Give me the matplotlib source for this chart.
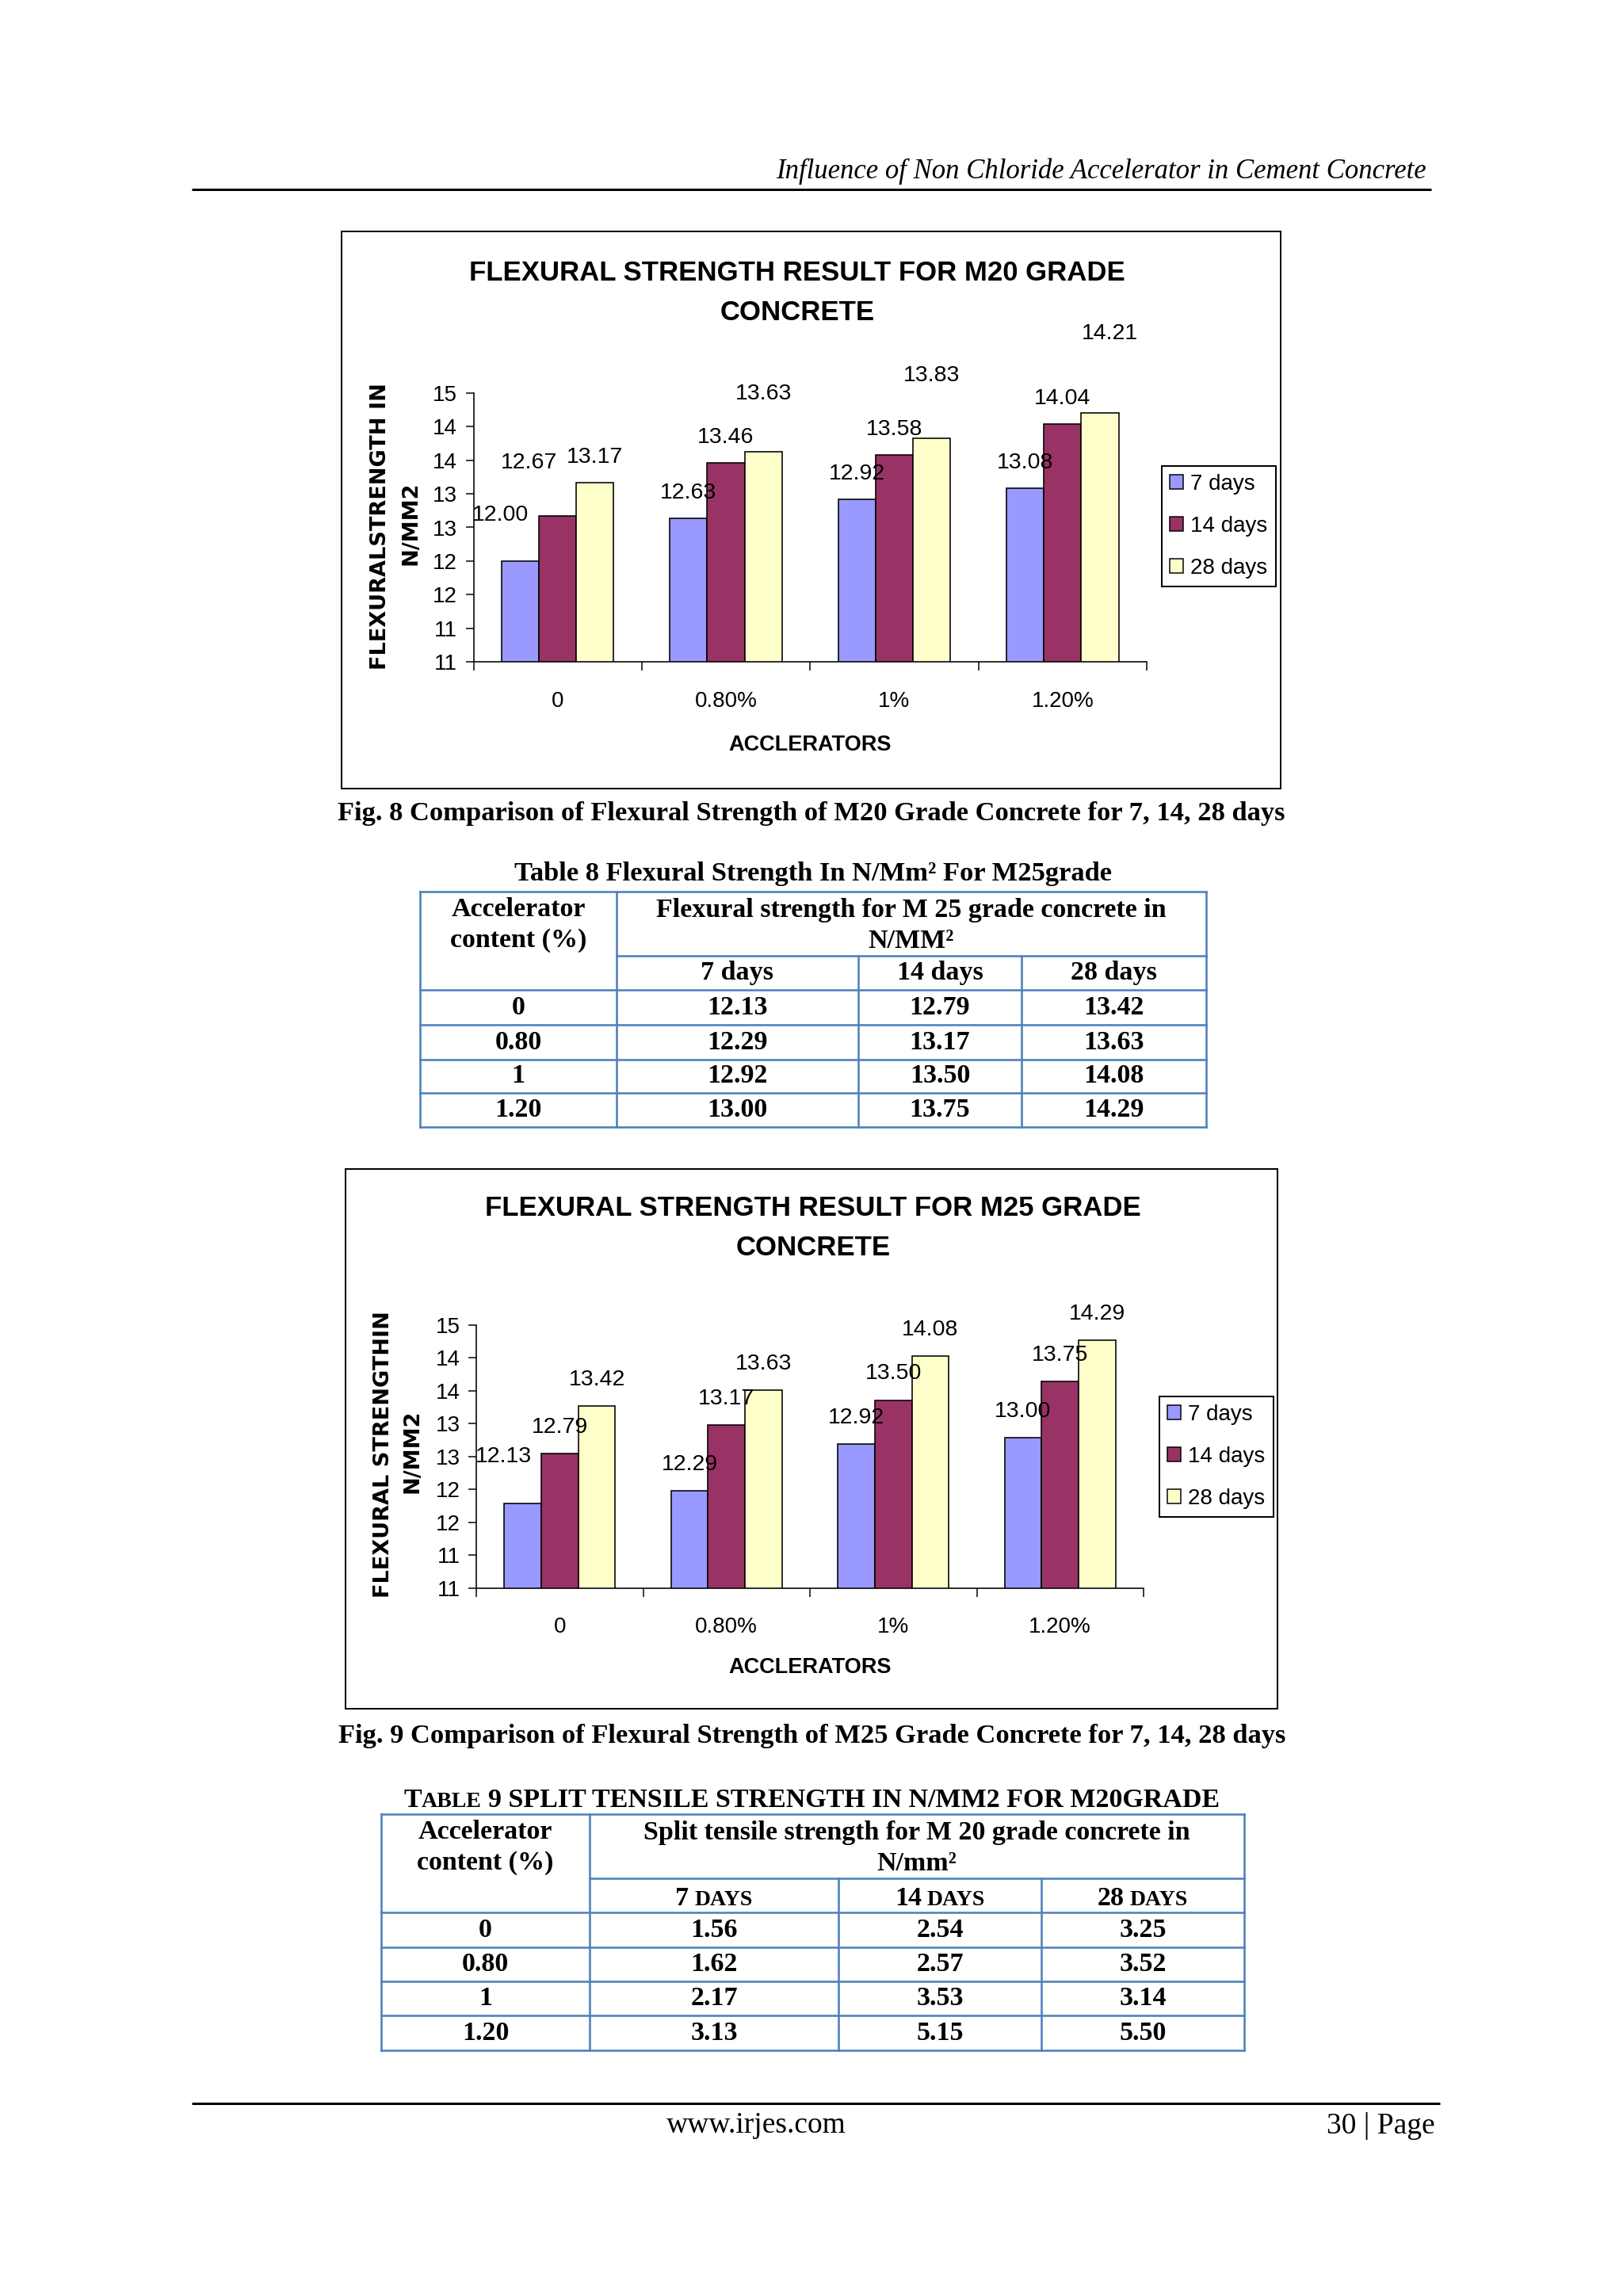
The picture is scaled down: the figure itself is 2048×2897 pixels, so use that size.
import math
import matplotlib
matplotlib.use("Agg")
import matplotlib.pyplot as plt
from matplotlib.patches import Rectangle, Patch
from matplotlib.ticker import FixedLocator, FuncFormatter

# ---------------- data ----------------
categories = ["0", "0.80%", "1%", "1.20%"]
series_names = ["7 days", "14 days", "28 days"]
m20_7 = [12.00, 12.63, 12.92, 13.08]
m20_14 = [12.67, 13.46, 13.58, 14.04]
m20_28 = [13.17, 13.63, 13.83, 14.21]
m25_7 = [12.13, 12.29, 12.92, 13.00]
m25_14 = [12.79, 13.17, 13.50, 13.75]
m25_28 = [13.42, 13.63, 14.08, 14.29]
table_content = ["0", "0.80", "1", "1.20"]
split_7 = [1.56, 1.62, 2.17, 3.13]
split_14 = [2.54, 2.57, 3.53, 5.15]
split_28 = [3.25, 3.52, 3.14, 5.50]

# ---------------- styling ----------------
W, H, DPI = 2048, 2897, 100
SANS, SERIF = "Liberation Sans", "Liberation Serif"
COLORS = ["#9999FF", "#993366", "#FFFFCC"]
TBL_BLUE = "#4F81BD"


def pt(px):
    return px * 72.0 / DPI


fig = plt.figure(figsize=(W / DPI, H / DPI), dpi=DPI, facecolor="white")
pg = fig.add_axes([0, 0, 1, 1], zorder=0)
pg.set_xlim(0, W)
pg.set_ylim(H, 0)
pg.axis("off")
renderer = fig.canvas.get_renderer()

# ---------------- page header / footer ----------------
pg.text(1800, 216, "Influence of Non Chloride Accelerator in Cement Concrete",
        ha="right", va="center", family=SERIF, style="italic", fontsize=25)
pg.plot([242, 1806], [239, 239], color="black", lw=pt(3), solid_capstyle="butt")
pg.plot([242, 1817], [2654, 2654], color="black", lw=pt(3), solid_capstyle="butt")
pg.text(954, 2682, "www.irjes.com", ha="center", va="center", family=SERIF, fontsize=27)
pg.text(1811, 2682, "30 | Page", ha="right", va="center", family=SERIF, fontsize=27)


# ---------------- charts ----------------
def excel_round(v, _pos=None):
    return str(int(math.floor(v + 0.5 + 1e-9)))


def draw_chart(box, axrect, series, ylo, yhi, step, offsets, title, title_xy,
               ylab, ylab_x, ylab_y, xlab_xy, leg_xy, xpad):
    bx0, by0, bx1, by1 = box
    pg.add_patch(Rectangle((bx0, by0), bx1 - bx0, by1 - by0, fill=False,
                           ec="black", lw=pt(2)))
    x0, y0, x1, y1 = axrect
    ax = fig.add_axes([x0 / W, 1 - y1 / H, (x1 - x0) / W, (y1 - y0) / H], zorder=2)
    ax.set_facecolor("none")
    n = len(categories)
    w = 1 / 4.5
    for j, vals in enumerate(series):
        xs = [i + (j - 1) * w for i in range(n)]
        ax.bar(xs, vals, width=w, color=COLORS[j], edgecolor="black",
               linewidth=pt(1.6), zorder=2)
        for i, v in enumerate(vals):
            dx, dy = offsets[j][i]
            ax.annotate(f"{v:.2f}", xy=(xs[i], v), xytext=(pt(dx), pt(dy)),
                        textcoords="offset points", ha="center", va="center",
                        family=SANS, fontsize=20.5, zorder=10,
                        annotation_clip=False)
    ax.set_xlim(-0.5, n - 0.5)
    ax.set_ylim(ylo, yhi)
    nt = int(round((yhi - ylo) / step))
    ax.yaxis.set_major_locator(FixedLocator([ylo + k * step for k in range(nt + 1)]))
    ax.yaxis.set_major_formatter(FuncFormatter(excel_round))
    ax.set_xticks([k - 0.5 for k in range(n + 1)])
    ax.set_xticks(range(n), minor=True)
    ax.set_xticklabels(categories, minor=True)
    ax.tick_params(axis="x", which="major", length=8, width=pt(1.5), labelbottom=False,
                   direction="out")
    ax.tick_params(axis="x", which="minor", length=0, pad=xpad, labelsize=20)
    ax.tick_params(axis="y", length=7.3, width=pt(1.5), pad=7.5, labelsize=20,
                   direction="out")
    for lab in ax.get_xticklabels(minor=True) + ax.get_yticklabels():
        lab.set_family(SANS)
    for s in ("top", "right"):
        ax.spines[s].set_visible(False)
    for s in ("left", "bottom"):
        ax.spines[s].set_linewidth(pt(1.6))
    # title
    for k, line in enumerate(title):
        pg.text(title_xy[0], title_xy[1][k], line, ha="center", va="center",
                family=SANS, weight="bold", fontsize=25)
    # y label (two lines)
    for k, line in enumerate(ylab):
        pg.text(ylab_x[k], ylab_y[k], line, ha="center", va="center", rotation=90,
                family="DejaVu Sans", weight="bold", fontsize=19.5)
    pg.text(xlab_xy[0], xlab_xy[1], "ACCLERATORS", ha="center", va="center",
            family=SANS, weight="bold", fontsize=19.5)
    handles = [Patch(facecolor=c, edgecolor="black", lw=pt(1.5)) for c in COLORS]
    leg = ax.legend(handles, series_names, loc="upper left",
                    bbox_to_anchor=(leg_xy[0] / W, 1 - leg_xy[1] / H),
                    bbox_transform=fig.transFigure, frameon=True, fancybox=False,
                    edgecolor="black", framealpha=1, prop={"family": SANS, "size": 20},
                    handlelength=0.6, handleheight=0.6, handletextpad=0.35,
                    labelspacing=0.97, borderpad=0.36, borderaxespad=0)
    leg.get_frame().set_linewidth(pt(2))
    return ax


off_m20 = [[(-25, 58), (0, 32), (0, 32), (0, 32)],
           [(-36, 67), (0, 32), (0, 32), (0, 32)],
           [(0, 32), (0, 73), (0, 79), (12, 100)]]
off_m25 = [[(-24, 59), (0, 33), (0, 33), (0, 33)],
           [(0, 33), (0, 33), (0, 33), (0, 33)],
           [(0, 33), (0, 33), (0, 33), (0, 33)]]

draw_chart((431, 292, 1616, 995), (597.5, 496, 1447, 835),
           [m20_7, m20_14, m20_28], 10.5, 14.5, 0.5, off_m20,
           ["FLEXURAL STRENGTH RESULT FOR M20 GRADE", "CONCRETE"], (1006, (344, 395)),
           ["FLEXURALSTRENGTH IN", "N/MM2"], (480, 518), (664, 660), (1022, 940),
           (1466, 588), 27)

draw_chart((436, 1475, 1612, 2156), (601, 1671.5, 1443, 2004),
           [m25_7, m25_14, m25_28], 11.0, 14.5, 0.4375, off_m25,
           ["FLEXURAL STRENGTH RESULT FOR M25 GRADE", "CONCRETE"], (1026, (1524, 1574)),
           ["FLEXURAL STRENGTHIN", "N/MM2"], (484, 520), (1835, 1831), (1022, 2104),
           (1463, 1762), 26)

# ---------------- captions ----------------
TFS = 24.5
CFS = 24.8
pg.text(1024, 1026, "Fig. 8 Comparison of Flexural Strength of M20 Grade Concrete for 7, 14, 28 days",
        ha="center", va="center", family=SERIF, weight="bold", fontsize=CFS)
pg.text(1025, 2190, "Fig. 9 Comparison of Flexural Strength of M25 Grade Concrete for 7, 14, 28 days",
        ha="center", va="center", family=SERIF, weight="bold", fontsize=CFS)


# ---------------- tables ----------------
def hline(x0, x1, y):
    pg.plot([x0, x1], [y, y], color=TBL_BLUE, lw=pt(2.6), solid_capstyle="projecting")


def vline(x, y0, y1):
    pg.plot([x, x], [y0, y1], color=TBL_BLUE, lw=pt(2.6), solid_capstyle="projecting")


def btext(x, y, s, size=TFS):
    return pg.text(x, y, s, ha="center", va="center", family=SERIF, weight="bold",
                   fontsize=size)


def smallcaps(xc, y, parts, size=TFS):
    """parts: list of (text, scale, gap_before_px)."""
    objs, widths = [], []
    for s, sc, gap in parts:
        t = pg.text(0, y, s, ha="left", va="baseline", family=SERIF, weight="bold",
                    fontsize=size * sc)
        objs.append(t)
        widths.append(t.get_window_extent(renderer).width)
    total = sum(widths) + sum(p[2] for p in parts)
    x = xc - total / 2
    for t, wd, p in zip(objs, widths, parts):
        x += p[2]
        t.set_x(x)
        x += wd


def draw_table(xe, yt, ysplit, yhb, rows_y, head_col0, head_main, day_heads, content, cols,
               small=False):
    x0, x1 = xe[0], xe[-1]
    yb = rows_y[-1]
    hline(x0, x1, yt)
    hline(xe[1], x1, ysplit)
    hline(x0, x1, yhb)
    for y in rows_y:
        hline(x0, x1, y)
    vline(x0, yt, yb)
    vline(xe[1], yt, yb)
    vline(x1, yt, yb)
    for xx in xe[2:-1]:
        vline(xx, ysplit, yb)
    c0 = (xe[0] + xe[1]) / 2
    cm = (xe[1] + xe[-1]) / 2
    ya, yb2 = yt + 23, yt + 62
    btext(c0, ya, head_col0[0])
    btext(c0, yb2, head_col0[1])
    btext(cm, ya, head_main[0])
    btext(cm, yb2, head_main[1])
    yd = (ysplit + yhb) / 2
    for k, dh in enumerate(day_heads):
        xc = (xe[k + 1] + xe[k + 2]) / 2
        if small:
            num, word = dh.split(" ")
            smallcaps(xc, yd + 12, [(num, 1.0, 0), (word.upper(), 0.82, 7)])
        else:
            btext(xc, yd, dh)
    edges = [yhb] + list(rows_y)
    for r in range(len(content)):
        yc = (edges[r] + edges[r + 1]) / 2
        btext(c0, yc, content[r])
        for k, col in enumerate(cols):
            btext((xe[k + 1] + xe[k + 2]) / 2, yc, f"{col[r]:.2f}")


# Table 8
btext(1026, 1103, "Table 8 Flexural Strength In N/Mm² For M25grade", size=CFS)
draw_table([530, 778, 1083, 1289, 1522], 1125, 1206, 1249, [1293, 1337, 1379, 1422],
           ["Accelerator", "content (%)"],
           ["Flexural strength for M 25 grade concrete in", "N/MM²"],
           ["7 days", "14 days", "28 days"], table_content, [m25_7, m25_14, m25_28])

# Table 9
smallcaps(1024, 2280, [("T", 1.0, 0), ("ABLE", 0.82, 0),
                       ("9 SPLIT TENSILE STRENGTH IN N/MM2 FOR M20GRADE", 1.0, 8)])
draw_table([481, 744, 1058, 1314, 1570], 2289, 2370, 2413, [2457, 2500, 2543, 2587],
           ["Accelerator", "content (%)"],
           ["Split tensile strength for M 20 grade concrete in", "N/mm²"],
           ["7 days", "14 days", "28 days"], table_content, [split_7, split_14, split_28],
           small=True)

fig.savefig("out.png", dpi=DPI, facecolor="white")
